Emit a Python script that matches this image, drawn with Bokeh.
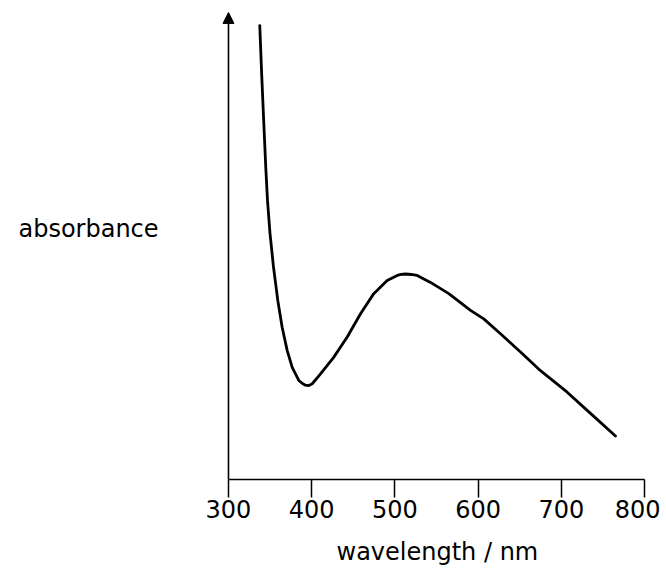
from bokeh.plotting import figure
from bokeh.models import Range1d, FixedTicker, Arrow, NormalHead, Label, Title
from bokeh.embed import file_html
from bokeh.resources import INLINE

# Data (arbitrary absorbance units, 0 = baseline)
wavelength_nm = [337.6, 339.7, 342.3, 345.0, 346.9, 349.9, 354.1, 359.3, 364.5, 370.6,
                 376.6, 384.5, 388.5, 392.5, 396.5, 400.6, 404.5, 410.6, 426.2, 442.7,
                 458.7, 474.6, 490.7, 502.8, 507.5, 512.7, 519.5, 526.8, 542.8, 564.8,
                 590.9, 606.8, 626.9, 651.0, 675.0, 707.1, 731.1, 765.1]
absorbance = [0.972, 0.876, 0.769, 0.662, 0.597, 0.527, 0.455, 0.383, 0.326, 0.276,
              0.240, 0.212, 0.206, 0.202, 0.201, 0.205, 0.213, 0.226, 0.261, 0.305,
              0.355, 0.398, 0.426, 0.437, 0.439, 0.440, 0.439, 0.437, 0.422, 0.398,
              0.362, 0.344, 0.312, 0.273, 0.233, 0.187, 0.148, 0.093]
x_ticks = [300, 400, 500, 600, 700, 800]
axis_x_min, axis_x_max = 300, 800
y_min, y_arrow_top = 0.0, 1.0

FONT = "DejaVu Sans"
FS = "24px"

# frame extends left over the label area; the axis itself is bounded to 300-800
p = figure(output_backend="svg", toolbar_location=None,
           frame_width=644, frame_height=475,
           min_border_left=0, min_border_right=16, min_border_top=4, min_border_bottom=0,
           x_range=Range1d(26, axis_x_max), y_range=Range1d(y_min, 1.0171))
p.outline_line_color = None
p.grid.visible = False
p.yaxis.visible = False
p.background_fill_color = "white"
p.border_fill_color = "white"

ax = p.xaxis[0]
ax.bounds = (axis_x_min, axis_x_max)
ax.ticker = FixedTicker(ticks=x_ticks)
ax.major_tick_in = 0
ax.major_tick_out = 18
ax.minor_tick_line_color = None
ax.axis_line_width = 1.6
ax.axis_line_color = "black"
ax.major_tick_line_width = 1.5
ax.major_tick_line_color = "black"
ax.major_label_text_font = FONT
ax.major_label_text_font_size = FS
ax.major_label_text_color = "black"
ax.major_label_standoff = 2

# x-axis title, positioned under the 300-800 span
p.add_layout(Title(text="wavelength / nm", align="left", offset=336,
                   text_font=FONT, text_font_size=FS, text_font_style="normal",
                   text_color="black", standoff=30), "below")

# y axis drawn as an arrow
p.add_layout(Arrow(end=NormalHead(size=11, fill_color="black", line_color="black", line_width=1),
                   x_start=axis_x_min, y_start=y_min, x_end=axis_x_min, y_end=y_arrow_top,
                   line_width=1.6, line_color="black"))

p.line(wavelength_nm, absorbance, line_width=2.8, line_color="black",
       line_join="round", line_cap="round")

p.add_layout(Label(x=131.8, y=0.537, text="absorbance", text_font=FONT,
                   text_font_size=FS, text_align="center", text_baseline="middle",
                   text_color="black"))

open("out.html", "w").write(file_html(p, INLINE))
